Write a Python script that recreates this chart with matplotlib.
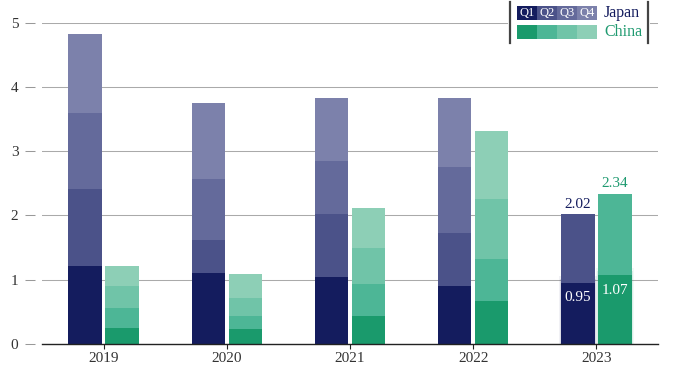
import numpy as np
import matplotlib.pyplot as plt
from matplotlib.patches import Rectangle
from matplotlib.lines import Line2D

plt.rcParams['font.family'] = ['Liberation Serif', 'DejaVu Serif']

years = ['2019', '2020', '2021', '2022', '2023']
quarters = ['Q1', 'Q2', 'Q3', 'Q4']

# quarterly values (stacked), 2023 only has Q1 and Q2
japan_q1 = [1.21, 1.11, 1.04, 0.90, 0.95]
japan_q2 = [1.20, 0.51, 0.98, 0.82, 1.07]
japan_q3 = [1.19, 0.95, 0.83, 1.04, 0.0]
japan_q4 = [1.22, 1.18, 0.98, 1.06, 0.0]

china_q1 = [0.25, 0.23, 0.43, 0.67, 1.07]
china_q2 = [0.31, 0.21, 0.50, 0.65, 1.27]
china_q3 = [0.34, 0.27, 0.56, 0.94, 0.0]
china_q4 = [0.31, 0.38, 0.63, 1.06, 0.0]

japan_colors = ['#141c5e', '#4b5289', '#646a9b', '#7c81ab']
china_colors = ['#1a9a6c', '#4db696', '#70c4a8', '#8dcfb6']
japan_text = '#141c5e'
china_text = '#1f9a70'

W, H = 680, 374
fig = plt.figure(figsize=(W / 100, H / 100), dpi=100)
ax = fig.add_axes([42 / W, 30 / H, 616 / W, 321.5 / H])

x = np.arange(len(years))
bw = 0.27
off = 0.15


def draw_stack(xpos, segs, colors):
    bottom = np.zeros(len(xpos))
    for i, (vals, c) in enumerate(zip(segs, colors)):
        vals = np.array(vals)
        ax.bar(xpos, vals, bw, bottom=bottom, color=c, edgecolor='none',
               linewidth=0, zorder=3)
        bottom = bottom + vals
    return bottom


jp_tot = draw_stack(x - off, [japan_q1, japan_q2, japan_q3, japan_q4], japan_colors)
cn_tot = draw_stack(x + off, [china_q1, china_q2, china_q3, china_q4], china_colors)

last = len(years) - 1

# soft glow around the latest Q1 segments
for xp, v, c in [(x[last] - off, japan_q1[last], japan_colors[0]),
                 (x[last] + off, china_q1[last], china_colors[0])]:
    for k, a in [(0.012, 0.10), (0.022, 0.06)]:
        ax.bar(xp, v + k * 5, bw + k * 2, color=c, alpha=a, edgecolor='none',
               zorder=2.5)
    ax.bar(xp, v, bw, color=c, edgecolor='none', zorder=3.5)

# labels on 2023
ax.annotate(f'{jp_tot[last]:.2f}', (x[last] - off, jp_tot[last]), xytext=(0, 2.5),
            textcoords='offset points', ha='center', va='bottom', fontsize=11,
            color=japan_text, zorder=5)
ax.annotate(f'{cn_tot[last]:.2f}', (x[last] + off, cn_tot[last]), xytext=(0, 2.5),
            textcoords='offset points', ha='center', va='bottom', fontsize=11,
            color=china_text, zorder=5)
ax.annotate(f'{japan_q1[last]:.2f}', (x[last] - off, japan_q1[last]), xytext=(0, -10.5),
            textcoords='offset points', ha='center', va='center', fontsize=11,
            color='white', zorder=5)
ax.annotate(f'{china_q1[last]:.2f}', (x[last] + off, china_q1[last]), xytext=(0, -11),
            textcoords='offset points', ha='center', va='center', fontsize=11,
            color='white', zorder=5)

ax.set_xlim(-0.5, len(years) - 0.5)
ax.set_ylim(0, 5)
ax.set_yticks(range(6))
ax.set_xticks(x)
ax.set_xticklabels(years)

ax.grid(True, axis='y', color='#aaaaaa', linewidth=0.75, zorder=0)
ax.set_axisbelow(True)

for s in ['top', 'right']:
    ax.spines[s].set_visible(False)
ax.spines['left'].set_position(('outward', 5))
ax.spines['left'].set_visible(False)
ax.spines['bottom'].set_color('#222222')
ax.spines['bottom'].set_linewidth(1.0)
ax.spines['bottom'].set_zorder(4)

ax.tick_params(axis='y', length=7, color='#999999', width=0.75, pad=5,
               labelsize=11, labelcolor='#333333')
ax.tick_params(axis='x', length=3.5, color='#222222', width=0.8, pad=2,
               labelsize=11, labelcolor='#333333')


# legend in pixel coordinates (top-left origin)
def fx(px):
    return px / W


def fy(py):
    return 1 - py / H


fig.patches.append(Rectangle((fx(508), fy(44)), fx(650) - fx(508), fy(0) - fy(44),
                             transform=fig.transFigure, facecolor='white',
                             edgecolor='none', zorder=5))
for lx in (510, 648):
    fig.add_artist(Line2D([fx(lx), fx(lx)], [fy(2), fy(43)], transform=fig.transFigure,
                          color='#444444', linewidth=1.6, zorder=6))

sw = 20
for row, (cols, name, tc) in enumerate([(japan_colors, 'Japan', japan_text),
                                        (china_colors, 'China', china_text)]):
    top = 6 + row * 19
    for j, c in enumerate(cols):
        fig.patches.append(Rectangle((fx(517 + j * sw), fy(top + 14)), fx(sw), fy(0) - fy(14),
                                     transform=fig.transFigure, facecolor=c,
                                     edgecolor='none', zorder=6))
        if row == 0:
            fig.text(fx(517 + j * sw + sw / 2), fy(top + 7), quarters[j], ha='center',
                     va='center', fontsize=9, color='white', zorder=7)
    fig.text(fx(604), fy(top + 7), name, ha='left', va='center', fontsize=11.5,
             color=tc, zorder=7)

fig.savefig('out.png', dpi=100, facecolor='white')
